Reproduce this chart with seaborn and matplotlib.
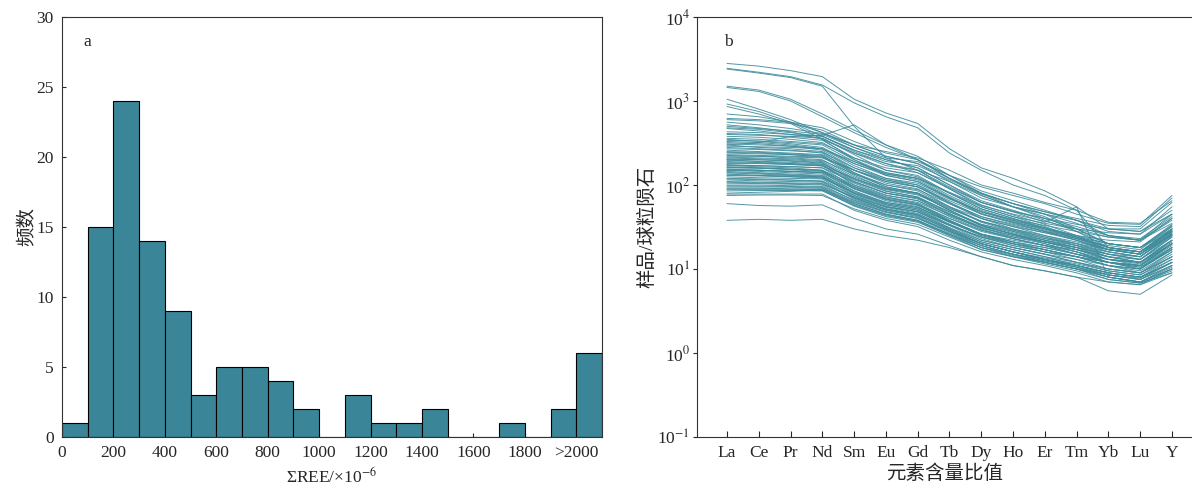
import numpy as np
import pandas as pd
import matplotlib
matplotlib.use("Agg")
import matplotlib.pyplot as plt
import seaborn as sns

# panel a: histogram of total REE (bin width 100, last bin is ">2000")
bin_edges = list(range(0, 2200, 100))
counts = [1, 15, 24, 14, 9, 3, 5, 5, 4, 2, 0, 3, 1, 1, 2, 0, 0, 1, 0, 2, 6]
x_ticks = [0, 200, 400, 600, 800, 1000, 1200, 1400, 1600, 1800, 2000]
x_ticklabels = ["0", "200", "400", "600", "800", "1000", "1200", "1400",
                "1600", "1800", ">2000"]

# panel b: chondrite-normalised REE patterns
elements = ["La", "Ce", "Pr", "Nd", "Sm", "Eu", "Gd", "Tb", "Dy", "Ho",
            "Er", "Tm", "Yb", "Lu", "Y"]
high_group = [
    [2800, 2600, 2300, 1950, 1050, 720, 540, 270, 160, 120, 85, 55, 30, 28, 45],
    [2450, 2200, 1950, 1550, 950, 650, 480, 240, 150, 100, 75, 50, 18, 16, 30],
    [2400, 2150, 1900, 1500, 500, 210, 150, 110, 75, 55, 45, 38, 25, 22, 35],
    [1500, 1350, 1050, 700, 450, 300, 220, 130, 80, 60, 45, 30, 20, 18, 28],
    [1450, 1300, 1000, 650, 420, 280, 200, 120, 75, 55, 42, 28, 18, 16, 25],
    [1050, 800, 600, 420, 300, 220, 180, 110, 70, 55, 40, 30, 20, 18, 30],
    [920, 750, 560, 380, 260, 200, 160, 100, 62, 48, 36, 55, 8, 7, 11],
    [860, 700, 540, 350, 240, 180, 150, 90, 55, 42, 32, 24, 17, 15, 26],
    [620, 600, 560, 480, 330, 240, 200, 130, 85, 65, 50, 38, 28, 26, 45],
    [600, 580, 540, 450, 300, 220, 180, 120, 80, 60, 48, 40, 33, 32, 70],
    [300, 320, 380, 390, 520, 300, 200, 120, 80, 55, 45, 35, 25, 22, 38],
    [700, 650, 560, 420, 280, 210, 190, 130, 95, 75, 60, 45, 35, 34, 75],
    [560, 520, 470, 410, 300, 250, 210, 150, 100, 80, 62, 50, 36, 35, 65],
]
mid_group = [
    [500, 470, 440, 400, 280, 200, 160, 100, 65, 50, 38, 28, 20, 18, 32],
    [480, 460, 420, 380, 250, 180, 140, 90, 58, 44, 34, 25, 18, 16, 30],
    [470, 440, 400, 360, 230, 150, 130, 80, 52, 40, 30, 23, 17, 15, 28],
    [520, 480, 430, 350, 200, 130, 110, 70, 45, 35, 28, 22, 16, 14, 25],
    [400, 390, 380, 360, 240, 170, 150, 95, 62, 48, 40, 34, 30, 30, 62],
    [380, 370, 350, 320, 200, 140, 120, 75, 50, 38, 30, 24, 18, 16, 28],
    [350, 330, 310, 280, 180, 130, 110, 70, 46, 36, 28, 22, 17, 15, 26],
    [330, 320, 300, 270, 170, 120, 100, 62, 40, 32, 25, 20, 15, 13, 22],
    [310, 300, 290, 260, 160, 115, 95, 60, 40, 30, 24, 19, 14, 12, 20],
    [300, 280, 270, 250, 150, 105, 90, 55, 36, 28, 22, 18, 14, 12, 20],
    [290, 285, 280, 270, 190, 140, 120, 80, 55, 42, 35, 30, 27, 26, 55],
    [280, 270, 260, 240, 140, 95, 80, 50, 34, 27, 22, 18, 13, 11, 18],
    [260, 250, 240, 230, 150, 110, 95, 62, 42, 33, 27, 22, 17, 15, 27],
    [240, 235, 230, 220, 140, 100, 85, 55, 37, 29, 23, 19, 15, 13, 24],
    [230, 225, 220, 215, 130, 90, 78, 50, 33, 26, 21, 17, 13, 12, 21],
    [220, 220, 215, 210, 150, 110, 95, 65, 45, 36, 30, 25, 22, 21, 40],
    [210, 205, 200, 190, 120, 85, 72, 46, 31, 24, 20, 16, 12, 11, 20],
    [200, 200, 195, 185, 110, 80, 70, 44, 30, 23, 19, 15, 12, 10, 18],
    [200, 190, 180, 170, 120, 90, 80, 55, 40, 32, 27, 23, 19, 17, 32],
    [190, 185, 180, 175, 100, 72, 60, 38, 26, 20, 17, 14, 11, 9.5, 16],
    [180, 180, 175, 170, 110, 80, 68, 45, 31, 25, 21, 17, 14, 12, 22],
    [175, 170, 165, 160, 95, 68, 58, 37, 25, 20, 17, 14, 11, 9, 15],
    [170, 165, 160, 150, 100, 75, 65, 45, 32, 26, 22, 19, 16, 14, 27],
    [165, 160, 155, 150, 90, 65, 55, 36, 25, 20, 16, 13, 10, 9, 14],
    [160, 158, 152, 145, 95, 70, 60, 40, 28, 23, 19, 16, 13, 12, 22],
    [155, 150, 145, 140, 85, 60, 52, 34, 23, 18, 15, 12, 9.5, 8.5, 13],
    [150, 150, 145, 140, 90, 68, 58, 40, 29, 24, 21, 18, 15, 13, 25],
    [150, 145, 140, 135, 80, 58, 50, 33, 22, 18, 15, 12, 10, 9, 14],
    [145, 140, 135, 130, 85, 62, 54, 37, 26, 21, 18, 15, 12, 11, 20],
    [140, 138, 132, 128, 78, 56, 48, 31, 21, 17, 14, 11, 9, 8, 12],
    [140, 135, 130, 125, 80, 60, 52, 36, 26, 22, 19, 17, 14, 13, 24],
    [430, 420, 400, 380, 260, 190, 170, 115, 78, 60, 48, 38, 30, 28, 50],
    [410, 400, 370, 340, 210, 150, 125, 80, 52, 40, 31, 24, 18, 16, 28],
    [360, 350, 330, 310, 210, 160, 140, 92, 62, 49, 40, 32, 25, 23, 42],
    [340, 335, 320, 300, 190, 135, 115, 72, 48, 37, 29, 23, 18, 16, 29],
    [320, 310, 290, 270, 180, 135, 120, 82, 57, 45, 37, 30, 24, 22, 40],
    [270, 265, 255, 245, 160, 120, 105, 70, 48, 38, 31, 25, 20, 18, 33],
    [250, 245, 235, 225, 135, 95, 80, 50, 33, 26, 20, 16, 12, 10.5, 17],
    [245, 240, 230, 215, 150, 115, 100, 68, 48, 39, 33, 28, 24, 22, 45],
    [225, 220, 210, 200, 125, 92, 80, 53, 37, 29, 24, 20, 16, 14, 26],
    [215, 210, 205, 195, 135, 100, 88, 60, 42, 34, 28, 24, 20, 18, 34],
    [205, 200, 192, 182, 115, 84, 72, 48, 33, 26, 21, 17, 13, 11.5, 20],
    [195, 192, 186, 178, 118, 88, 76, 52, 37, 30, 25, 21, 17, 16, 30],
    [185, 182, 176, 168, 105, 76, 65, 42, 29, 23, 19, 15, 12, 10.5, 18],
    [172, 170, 166, 160, 108, 80, 70, 48, 34, 28, 23, 20, 17, 15, 29],
    [162, 160, 154, 148, 92, 67, 57, 38, 26, 21, 17, 14, 11, 10, 17],
    [152, 150, 146, 142, 96, 72, 62, 43, 31, 25, 21, 18, 15, 14, 26],
]
low_group = [
    [135, 130, 128, 125, 75, 54, 46, 30, 20, 16, 13, 11, 8.5, 7.5, 11],
    [130, 128, 125, 120, 80, 58, 50, 34, 24, 20, 17, 14, 12, 11, 20],
    [125, 122, 120, 118, 72, 52, 44, 29, 20, 16, 13, 11, 9, 8, 12],
    [120, 118, 115, 112, 75, 55, 48, 33, 24, 19, 16, 14, 12, 10, 18],
    [115, 112, 110, 108, 68, 50, 42, 28, 19, 15, 12.5, 10.5, 8.5, 7.5, 11],
    [110, 108, 106, 104, 70, 52, 45, 31, 22, 18, 15, 13, 11, 10, 17],
    [105, 104, 102, 100, 65, 48, 40, 27, 19, 15, 12, 10, 8, 7, 10],
    [100, 100, 98, 96, 66, 50, 43, 30, 21, 17, 14, 12, 10, 9, 16],
    [95, 95, 94, 92, 60, 45, 38, 26, 18, 14.5, 12, 10, 8, 7, 10],
    [92, 92, 90, 90, 62, 47, 40, 28, 20, 16, 13.5, 11.5, 9.5, 8.5, 14],
    [88, 88, 87, 86, 56, 42, 36, 25, 17, 14, 11.5, 9.5, 7.5, 6.8, 9],
    [80, 82, 84, 88, 60, 45, 38, 26, 19, 15, 13, 11, 9, 8, 13],
    [78, 78, 78, 78, 50, 38, 32, 22, 16, 13, 11, 9, 7, 6.5, 9],
    [75, 76, 76, 75, 52, 40, 34, 24, 17, 14, 12, 10, 8.5, 7.5, 12],
    [60, 57, 56, 58, 40, 30, 26, 19, 14, 11, 9.5, 8, 5.5, 5, 8.5],
    [38, 39, 38, 39, 30, 25, 22, 18, 14, 11, 9.5, 8, 7, 6.5, 10],
    [132, 130, 126, 122, 82, 62, 54, 37, 26, 21, 18, 15, 13, 12, 22],
    [118, 116, 114, 110, 70, 51, 44, 29, 20, 16, 13, 10.5, 8, 7, 10.5],
    [108, 106, 104, 102, 72, 55, 48, 33, 24, 19, 16, 14, 12, 11, 19],
    [98, 97, 96, 94, 63, 48, 41, 28, 20, 16, 13, 11, 9, 8, 12],
    [90, 90, 89, 88, 58, 44, 37, 25, 18, 14, 12, 10, 7.5, 6.8, 9.5],
    [85, 86, 86, 85, 57, 43, 37, 26, 18, 15, 12.5, 10.5, 8.5, 7.8, 12],
]
samples = high_group + mid_group + low_group

bar_color = "#3a8597"
line_color = "#3f8c9c"

sns.set_style("ticks")
plt.rcParams["font.family"] = ["Liberation Serif", "Noto Sans CJK SC", "DejaVu Sans"]
plt.rcParams["mathtext.fontset"] = "stix"
plt.rcParams["axes.unicode_minus"] = True

fig = plt.figure(figsize=(11.92, 4.92), dpi=100)
ax1 = fig.add_axes([62 / 1192, 55 / 492, 540 / 1192, 420 / 492])
ax2 = fig.add_axes([697 / 1192, 55 / 492, 495 / 1192, 420 / 492])

# ---- panel a
centers = [e + 50 for e in bin_edges[:-1]]
sns.histplot(x=centers, weights=counts, bins=bin_edges, color=bar_color,
             alpha=1, edgecolor="black", linewidth=0.8, ax=ax1)
ax1.set_xlim(0, 2100)
ax1.set_ylim(0, 30)
ax1.set_xticks(x_ticks)
ax1.set_xticklabels(x_ticklabels)
ax1.set_yticks([0, 5, 10, 15, 20, 25, 30])
ax1.set_xlabel("ΣREE/×10$^{-6}$", fontsize=12.5, labelpad=4)
ax1.set_ylabel("频数", fontsize=14, labelpad=0)
ax1.tick_params(direction="in", length=3, labelsize=12.5, pad=6)
for s in ax1.spines.values():
    s.set_linewidth(0.8)
    s.set_color("#333333")
ax1.text(0.04, 0.93, "a", transform=ax1.transAxes, fontsize=12.5)

# ---- panel b
rows = []
for i, vals in enumerate(samples):
    for j, v in enumerate(vals):
        rows.append({"sample": i, "pos": j, "value": v})
df = pd.DataFrame(rows)
sns.lineplot(data=df, x="pos", y="value", units="sample", estimator=None,
             color=line_color, linewidth=0.7, alpha=0.9, ax=ax2)
ax2.set_yscale("log")
ax2.set_ylim(0.1, 10000)
ax2.set_xlim(-0.944, 14.63)
ax2.set_xticks(range(len(elements)))
ax2.set_xticklabels(elements)
ax2.set_yticks([0.1, 1, 10, 100, 1000, 10000])
ax2.set_yticklabels(["10$^{-1}$", "10$^{0}$", "10$^{1}$", "10$^{2}$",
                     "10$^{3}$", "10$^{4}$"])
ax2.minorticks_off()
ax2.set_xlabel("元素含量比值", fontsize=14, labelpad=2)
ax2.set_ylabel("样品/球粒陨石", fontsize=14, labelpad=0)
ax2.tick_params(axis="x", direction="in", length=4, labelsize=12.5, pad=6)
ax2.tick_params(axis="y", direction="out", length=3, labelsize=12.5, pad=2)
ax2.spines["right"].set_visible(False)
for s in ax2.spines.values():
    s.set_linewidth(0.8)
    s.set_color("#333333")
ax2.text(0.055, 0.93, "b", transform=ax2.transAxes, fontsize=12.5)

fig.savefig("out.png", dpi=100)
